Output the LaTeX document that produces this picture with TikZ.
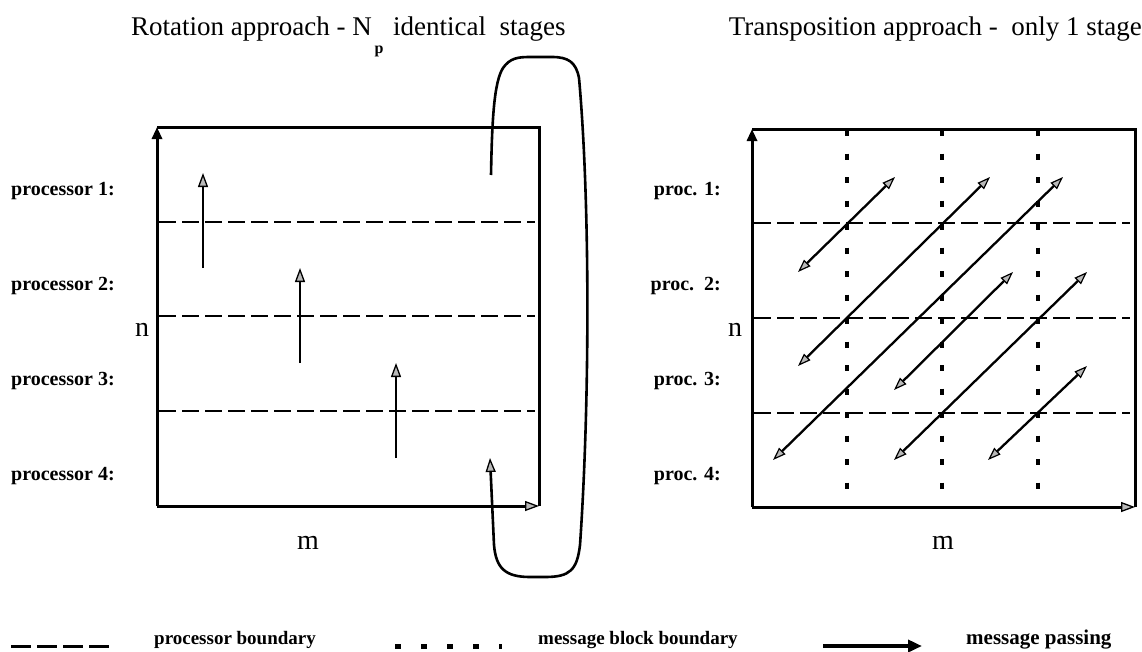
\documentclass[tikz,border=0pt]{standalone}
\usepackage{fontspec}
\setmainfont{Liberation Serif}
\usetikzlibrary{arrows.meta}

\tikzset{
  frame/.style={line width=3pt},
  procline/.style={line width=2.6pt, dash pattern=on 17pt off 6pt},
  blockline/.style={line width=3.4pt, dash pattern=on 6pt off 17.5pt},
  hollowtip/.style={-{Triangle[length=14pt,width=10pt,fill=gray!55,line width=1.3pt]}},
  blacktip/.style={-{Triangle[length=12pt,width=10pt,fill=black]}},
  msg/.style={line width=2.3pt, {Triangle[length=13pt,width=9pt,fill=gray!55,line width=1.2pt]}-{Triangle[length=13pt,width=9pt,fill=gray!55,line width=1.2pt]}},
  uparrow/.style={line width=2.6pt, -{Triangle[length=14pt,width=10pt,fill=gray!55,line width=1.3pt]}},
  title/.style={font=\fontsize{27}{32}\selectfont, inner sep=0pt},
  plab/.style={font=\fontsize{20}{24}\selectfont\bfseries, inner sep=0pt, anchor=base west},
  rlab/.style={font=\fontsize{20}{24}\selectfont\bfseries, inner sep=0pt, anchor=base east},
  axlab/.style={font=\fontsize{28}{32}\selectfont, inner sep=0pt},
  leg/.style={font=\fontsize{19}{24}\selectfont\bfseries, inner sep=0pt, anchor=base west}
}

\begin{document}
\begin{tikzpicture}[x=1pt, y=-1pt]
\useasboundingbox (0,0) rectangle (1142,651);

% ---------- titles ----------
\node[title, anchor=base east] (tl) at (372,35) {Rotation approach - N};
\node[font=\fontsize{16}{18}\selectfont\bfseries, inner sep=0pt] (tlp) at (379,51) {p};
\node[title, anchor=base west] (tl2) at (393,35) {identical\ \ stages};
\node[title, anchor=base east] (tr) at (1142,35) {Transposition approach -\ \ only 1 stage};

% ---------- left block: rotation ----------
\coordinate (lo) at (157,506);
\coordinate (ltl) at (157,127);
\coordinate (ltr) at (539,127);
\coordinate (lbr) at (539,506);
\draw[frame] (ltl) -- (ltr) -- (lbr);
\draw[frame, hollowtip] (lo) -- (lbr);
\draw[frame, blacktip] (lo) -- (ltl);

\foreach \y in {222,316,411}
  \draw[procline] (159,\y) -- (535,\y);

\node[plab] (p1) at (11,195) {processor 1:};
\node[plab] (p2) at (11,290) {processor 2:};
\node[plab] (p3) at (11,385) {processor 3:};
\node[plab] (p4) at (11,480) {processor 4:};
\node[axlab] (ln) at (142,330) {n};
\node[axlab] (lm) at (308,543) {m};

% block moves one processor up
\coordinate (u1a) at (203,268); \coordinate (u1b) at (203,173);
\coordinate (u2a) at (300,363); \coordinate (u2b) at (300,268);
\coordinate (u3a) at (396,458); \coordinate (u3b) at (396,363);
\draw[uparrow] (u1a) -- (u1b);
\draw[uparrow] (u2a) -- (u2b);
\draw[uparrow] (u3a) -- (u3b);

% wrap-around from processor 1 to processor 4
\coordinate (wtop) at (491,175);
\coordinate (wbot) at (490,458);
\draw[uparrow] (wtop) .. controls (492,120) and (494,82) .. (503,68)
  .. controls (510,58) and (518,57) .. (530,57) -- (552,57)
  .. controls (568,57) and (576,62) .. (579,78)
  .. controls (590,200) and (590,400) .. (580,545)
  .. controls (577,570) and (570,577) .. (545,577) -- (530,577)
  .. controls (505,577) and (496,568) .. (494,545) -- (wbot);

% ---------- right block: transposition ----------
\coordinate (ro) at (752,507);
\coordinate (rtl) at (752,129);
\coordinate (rtr) at (1135,129);
\coordinate (rbr) at (1135,507);
\draw[frame] (rtl) -- (rtr) -- (rbr);
\draw[frame, hollowtip] (ro) -- (rbr);
\draw[frame, blacktip] (ro) -- (rtl);

\foreach \y in {223,318,413}
  \draw[procline] (754,\y) -- (1130,\y);
\foreach \x in {847,942,1038}
  \draw[blockline] (\x,130) -- (\x,505);

\node[rlab] (q1) at (721,195) {proc. 1:};
\node[rlab] (q2) at (721,290) {proc.\ \ 2:};
\node[rlab] (q3) at (721,385) {proc. 3:};
\node[rlab] (q4) at (721,480) {proc. 4:};
\node[axlab] (rn) at (735,330) {n};
\node[axlab] (rm) at (943,543) {m};

% block (i,j) swaps with block (j,i)
\coordinate (a1) at (798,272);  \coordinate (a2) at (895,177);
\coordinate (b1) at (798,366);  \coordinate (b2) at (990,177);
\coordinate (c1) at (773,460);  \coordinate (c2) at (1063,177);
\coordinate (d1) at (894,390);  \coordinate (d2) at (1013,272);
\coordinate (e1) at (894,460);  \coordinate (e2) at (1087,272);
\coordinate (f1) at (988,460);  \coordinate (f2) at (1087,366);
\foreach \s/\t in {a1/a2,b1/b2,c1/c2,d1/d2,e1/e2,f1/f2}
  \draw[msg] (\s) -- (\t);

% ---------- legend ----------
\coordinate (k1a) at (11,646);  \coordinate (k1b) at (112,646);
\draw[line width=3pt, dash pattern=on 20pt off 6pt] (k1a) -- (k1b);
\node[leg] (k1) at (154,644) {processor boundary};

\coordinate (k2a) at (395,646); \coordinate (k2b) at (502,646);
\draw[line width=5pt, dash pattern=on 6pt off 20pt] (k2a) -- (k2b);
\node[leg] (k2) at (538,644) {message block boundary};

\coordinate (k3a) at (823,646); \coordinate (k3b) at (922,646);
\draw[line width=4.5pt, -{Triangle[length=14pt,width=12pt,fill=black]}] (k3a) -- (k3b);
\node[leg, font=\fontsize{21}{24}\selectfont\bfseries] (k3) at (966,644) {message passing};
\end{tikzpicture}
\end{document}
